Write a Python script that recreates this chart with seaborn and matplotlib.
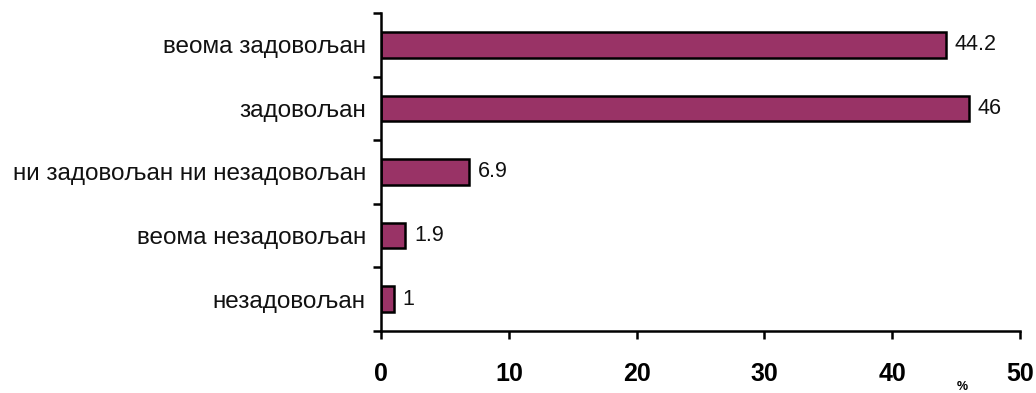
import numpy as np
import pandas as pd
import matplotlib
matplotlib.use('Agg')
import matplotlib.pyplot as plt
import seaborn as sns

# Data
categories = ['веома задовољан', 'задовољан', 'ни задовољан ни незадовољан',
              'веома незадовољан', 'незадовољан']
values = [44.2, 46, 6.9, 1.9, 1]
value_labels = ['44.2', '46', '6.9', '1.9', '1']
x_ticks = [0, 10, 20, 30, 40, 50]

df = pd.DataFrame({'category': categories, 'value': values})

sns.set_style('white')
plt.rcParams['font.family'] = ['Liberation Sans', 'DejaVu Sans']
plt.rcParams['text.color'] = 'black'

fig = plt.figure(figsize=(10.36, 3.93), dpi=100)
ax = fig.add_axes([0.3678, 0.1578, 0.6168, 0.8091])

sns.barplot(data=df, x='value', y='category', orient='h', color='#993366',
            edgecolor='black', linewidth=1.8, width=0.4, saturation=1, ax=ax)

# Value labels
for i, (v, lab) in enumerate(zip(values, value_labels)):
    ax.text(v + 0.7, i, lab, va='center', ha='left', fontsize=15.5, color='#111111')

ax.set_xlim(0, 50)
ax.set_ylim(len(categories) - 0.5, -0.5)
ax.set_xticks(x_ticks)
ax.set_xticklabels([str(t) for t in x_ticks], fontsize=18, fontweight='bold')
ax.tick_params(axis='x', bottom=True, direction='out', length=6, width=1.8,
               pad=16, colors='black')

# Category ticks sit between bars
ax.set_yticks(range(len(categories)))
ax.set_yticklabels(categories, fontsize=17.5)
ax.tick_params(axis='y', which='major', left=False, length=0, pad=11,
               labelcolor='#111111')
ax.set_yticks(np.arange(-0.5, len(categories), 1), minor=True)
ax.tick_params(axis='y', which='minor', left=True, direction='out', length=6,
               width=1.8, colors='black')

for side in ['top', 'right']:
    ax.spines[side].set_visible(False)
for side in ['left', 'bottom']:
    ax.spines[side].set_color('black')
    ax.spines[side].set_linewidth(1.8)

ax.set_xlabel('')
ax.set_ylabel('')
fig.text(962 / 1036, 1 - 387 / 393, '%', fontsize=9, fontweight='bold',
         ha='center', va='center')

fig.savefig('out.png', dpi=100)
